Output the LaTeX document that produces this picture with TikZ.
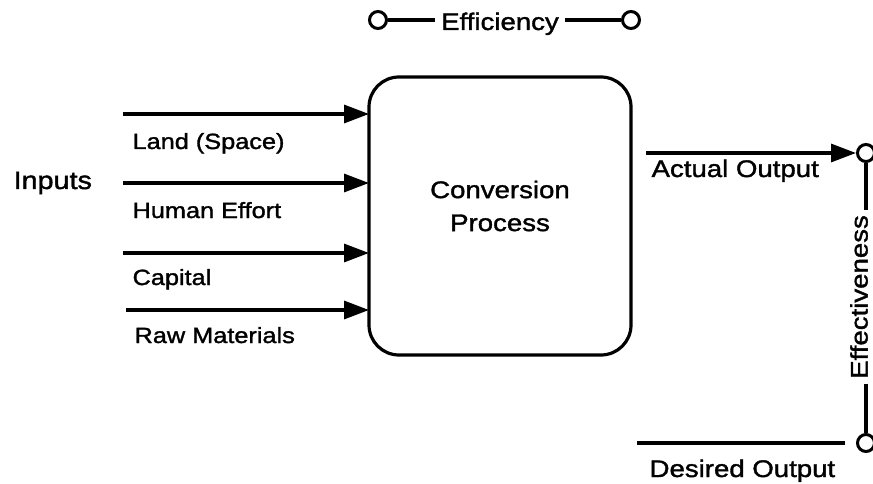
\documentclass[tikz,border=0pt]{standalone}
\usepackage{fontspec}
\setmainfont[FakeStretch=1.15, FakeBold=1.5]{Liberation Sans}
\usetikzlibrary{arrows.meta}

\tikzset{
  lbl/.style={font=\fontsize{24}{33}\selectfont, inner sep=0pt},
  small/.style={font=\fontsize{22}{26}\selectfont, inner sep=0pt, anchor=base west},
  terminal/.style={circle, draw, line width=3pt, minimum size=17pt, inner sep=0pt},
  flow/.style={-{Triangle[length=25pt,width=18pt]}},
  procbox/.style={draw, rounded corners=30pt}
}

\begin{document}
\begin{tikzpicture}[x=1pt, y=-1pt, line width=3.2pt]
  \useasboundingbox (0,0) rectangle (873,484);

  % conversion process
  \draw[procbox] (369,77) rectangle (631,355);
  \coordinate (boxw) at (369,200);
  \node[lbl, align=center] (proc) at (500,206) {Conversion\\Process};

  % efficiency gauge
  \node[terminal] (e1) at (378,20) {};
  \node[terminal] (e2) at (631,20) {};
  \node[lbl, anchor=base, inner xsep=5pt] (eff) at (500,30) {Efficiency};
  \draw (e1.east) -- (e1.east -| eff.west);
  \draw (eff.east |- e2.west) -- (e2.west);

  % inputs
  \node[lbl, anchor=base west, font=\fontsize{25}{30}\selectfont] (inp) at (12,189) {Inputs};
  \coordinate (in1) at (123,114);
  \coordinate (in2) at (123,183);
  \coordinate (in3) at (123,253);
  \coordinate (in4) at (126,310);
  \foreach \i in {1,...,4} \draw[flow] (in\i) -- (in\i -| boxw);
  \node[small] (l1) at (131,149) {Land (Space)};
  \node[small] (l2) at (131,218) {Human Effort};
  \node[small] (l3) at (131,285) {Capital};
  \node[small] (l4) at (133,343) {Raw Materials};

  % outputs and effectiveness gauge
  \node[terminal] (ao) at (866,153) {};
  \node[terminal] (do) at (866,443) {};
  \coordinate (aos) at (646,153);
  \draw[flow] (aos) -- (ao.west);
  \node[lbl, anchor=base west] (aol) at (650,177) {Actual Output};

  \coordinate (dos) at (637,443);
  \coordinate (doe) at (845,443);
  \draw (dos) -- (doe);
  \node[lbl, anchor=base west] (dol) at (648,477) {Desired Output};

  \node[lbl, rotate=90, inner xsep=4pt] (effv) at (859,297) {Effectiveness};
  \draw (ao.south) -- (ao.south |- effv.east);
  \draw (do.north |- effv.west) -- (do.north);
\end{tikzpicture}
\end{document}
